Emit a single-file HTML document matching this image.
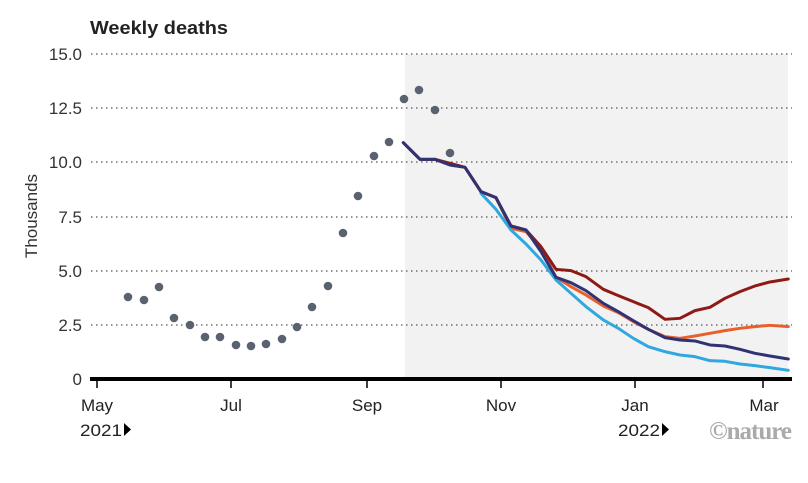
<!DOCTYPE html>
<html><head><meta charset="utf-8"><style>
body{margin:0;background:#fff}
svg{display:block;font-family:"Liberation Sans",sans-serif}
</style></head><body>
<svg width="808" height="483" viewBox="0 0 808 483">
<rect x="405" y="54" width="383" height="325" fill="#f2f2f2"/>
<g stroke="#555" stroke-width="1.3" stroke-dasharray="1.5 3.5">
<line x1="91" y1="54" x2="792" y2="54"/>
<line x1="91" y1="108" x2="792" y2="108"/>
<line x1="91" y1="162" x2="792" y2="162"/>
<line x1="91" y1="217" x2="792" y2="217"/>
<line x1="91" y1="271" x2="792" y2="271"/>
<line x1="91" y1="325" x2="792" y2="325"/>
</g>
<g font-size="17" fill="#333" text-anchor="end">
<text x="82" y="60">15.0</text><text x="82" y="114">12.5</text><text x="82" y="168">10.0</text>
<text x="82" y="223">7.5</text><text x="82" y="277">5.0</text><text x="82" y="331">2.5</text><text x="82" y="385">0</text>
</g>
<text transform="translate(37,216) rotate(-90)" font-size="17" fill="#333" text-anchor="middle">Thousands</text>
<text x="90" y="34" font-size="18" font-weight="bold" fill="#222" textLength="138" lengthAdjust="spacingAndGlyphs">Weekly deaths</text>
<g fill="#5a6270">
<circle cx="128" cy="297" r="4.3"/><circle cx="144" cy="300" r="4.3"/><circle cx="159" cy="287" r="4.3"/>
<circle cx="174" cy="318" r="4.3"/><circle cx="190" cy="325" r="4.3"/><circle cx="205" cy="337" r="4.3"/>
<circle cx="220" cy="337" r="4.3"/><circle cx="236" cy="345" r="4.3"/><circle cx="251" cy="346" r="4.3"/>
<circle cx="266" cy="344" r="4.3"/><circle cx="282" cy="339" r="4.3"/><circle cx="297" cy="327" r="4.3"/>
<circle cx="312" cy="307" r="4.3"/><circle cx="328" cy="286" r="4.3"/><circle cx="343" cy="233" r="4.3"/>
<circle cx="358" cy="196" r="4.3"/><circle cx="374" cy="156" r="4.3"/><circle cx="389" cy="142" r="4.3"/>
<circle cx="404" cy="99" r="4.3"/><circle cx="419" cy="90" r="4.3"/><circle cx="435" cy="110" r="4.3"/>
<circle cx="450" cy="153" r="4.3"/>
</g>
<g transform="translate(400,120) scale(0.3333)" fill="none" stroke-width="9" stroke-linejoin="round" stroke-linecap="round">
<polyline stroke="#e8602c" points="10,68 60,118 105,118 150,135 195,142 243,215 288,233 333,325 378,335 423,385 468,472 513,500 558,525 610,558 655,578 700,605 745,628 795,650 840,655 885,648 930,640 975,632 1020,625 1065,620 1110,616 1165,620"/>
<polyline stroke="#2fa7e0" points="243,220 288,268 333,330 378,372 423,420 468,480 513,520 558,560 610,600 655,625 700,655 745,680 795,695 840,705 885,710 930,722 975,724 1020,732 1065,737 1110,743 1165,751"/>
<polyline stroke="#8e1a16" points="10,68 60,118 105,118 150,130 195,142 243,215 288,233 333,318 378,330 423,380 468,448 513,452 558,470 610,508 655,527 700,545 745,563 795,598 840,595 885,572 930,562 975,535 1020,515 1065,498 1110,486 1165,477"/>
<polyline stroke="#2f3374" points="10,68 60,118 105,118 150,135 195,142 243,215 288,233 333,318 378,330 423,395 468,472 513,488 558,512 610,550 655,575 700,602 745,628 795,653 840,660 885,663 930,675 975,678 1020,688 1065,700 1110,708 1165,717"/>
</g>
<line x1="90" y1="379" x2="792" y2="379" stroke="#000" stroke-width="4"/>
<g stroke="#000" stroke-width="1.5">
<line x1="97" y1="379" x2="97" y2="388"/><line x1="231" y1="379" x2="231" y2="388"/>
<line x1="367" y1="379" x2="367" y2="388"/><line x1="501" y1="379" x2="501" y2="388"/>
<line x1="635" y1="379" x2="635" y2="388"/><line x1="763" y1="379" x2="763" y2="388"/>
</g>
<g font-size="17" fill="#222" text-anchor="middle">
<text x="97" y="411">May</text><text x="231" y="411">Jul</text><text x="367" y="411">Sep</text>
<text x="501" y="411">Nov</text><text x="635" y="411">Jan</text><text x="764" y="411">Mar</text>
</g>
<g font-size="17" fill="#222">
<text x="80" y="436" textLength="42" lengthAdjust="spacingAndGlyphs">2021</text><text x="618" y="436" textLength="42" lengthAdjust="spacingAndGlyphs">2022</text>
</g>
<polygon points="124,423 124,436 131,429.5" fill="#000"/>
<polygon points="662,423 662,436 669,429.5" fill="#000"/>
<text x="791" y="439" font-size="25" font-weight="bold" fill="#aaa" text-anchor="end" font-family="Liberation Serif,serif" letter-spacing="-1">©nature</text>
</svg>
</body></html>
